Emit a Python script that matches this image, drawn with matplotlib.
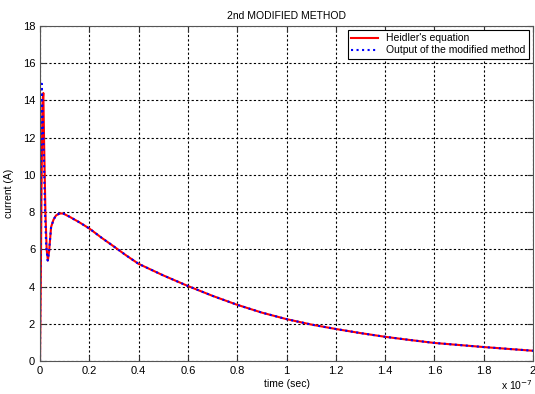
import matplotlib
matplotlib.use('Agg')
import matplotlib.pyplot as plt
from matplotlib.ticker import FuncFormatter

# time points (ns) and currents (A)
T_EARLY_RED = [0, 0.3, 0.6, 1.0, 1.35, 1.7, 2.2, 2.7, 3.2, 3.7, 4.5]
I_EARLY_RED = [0, 4.0, 9.0, 13.8, 14.4, 11.5, 8.0, 6.0, 5.4, 5.9, 7.2]
T_EARLY_BLUE = [0, 0.3, 0.7, 1.0, 1.6, 2.0, 2.5, 3.1, 3.6, 4.5]
I_EARLY_BLUE = [0, 9.0, 14.9, 13.5, 10.8, 8.1, 6.2, 5.4, 5.8, 7.2]

T_TAIL = [5.5, 6.5, 7.5, 8.5, 9.5, 10.5, 12, 14, 16, 20, 25, 30, 35, 40,
          50, 60, 70, 80, 90, 100, 110, 120, 130, 140, 150, 160, 170, 180,
          190, 200]
I_TAIL = [7.6, 7.82, 7.9, 7.93, 7.92, 7.85, 7.75, 7.6, 7.45, 7.12, 6.62,
          6.15, 5.67, 5.22, 4.6, 4.03, 3.5, 3.02, 2.6, 2.25, 1.96, 1.72, 1.5,
          1.3, 1.13, 0.97, 0.86, 0.75, 0.65, 0.55]

t_red = [v * 1e-9 for v in T_EARLY_RED + T_TAIL]
i_red = I_EARLY_RED + I_TAIL
t_blue = [v * 1e-9 for v in T_EARLY_BLUE + T_TAIL]
i_blue = I_EARLY_BLUE + I_TAIL

X_TICKS = [k * 0.2e-7 for k in range(11)]
Y_TICKS = list(range(0, 19, 2))

plt.rcParams['font.family'] = ['Liberation Sans', 'DejaVu Sans']

fig = plt.figure(figsize=(5.35, 3.94), dpi=100, facecolor='white')
ax = fig.add_axes([40 / 535, 33 / 394, 493 / 535, 335 / 394])

ax.plot(t_red, i_red, color='#FF0000', linewidth=1.5, label="Heidler's equation")
ax.plot(t_blue, i_blue, color='#0000FF', linewidth=1.5, linestyle=':',
        label='Output of the modified method')

ax.set_xlim(0, 2e-7)
ax.set_ylim(0, 18)
ax.set_xticks(X_TICKS)
ax.set_yticks(Y_TICKS)
ax.xaxis.set_major_formatter(FuncFormatter(lambda x, p: '%g' % round(x / 1e-7, 2)))
ax.grid(True, color='black', linestyle=(0, (2, 2)), linewidth=0.8)
ax.tick_params(direction='in', top=True, right=True, length=4, labelsize=8,
               colors='#333333', labelcolor='black')
for s in ax.spines.values():
    s.set_color('#555555')
    s.set_linewidth(0.8)

ax.set_xlabel('time (sec)', fontsize=7.5, labelpad=2)
ax.set_ylabel('current (A)', fontsize=7.5, labelpad=6)
ax.set_title('2nd MODIFIED METHOD', fontsize=7.5, pad=5)
ax.text(1.0, -0.087, r'x 10$^{-7}$', transform=ax.transAxes, ha='right',
        va='baseline', fontsize=7.5)

leg = ax.legend(loc='upper right', fontsize=7.5, fancybox=False, framealpha=1,
                edgecolor='black', borderaxespad=0.4, handlelength=2.6,
                labelspacing=0.2, borderpad=0.3)
leg.get_frame().set_linewidth(0.8)

fig.savefig('out.png', dpi=100, facecolor='white')
